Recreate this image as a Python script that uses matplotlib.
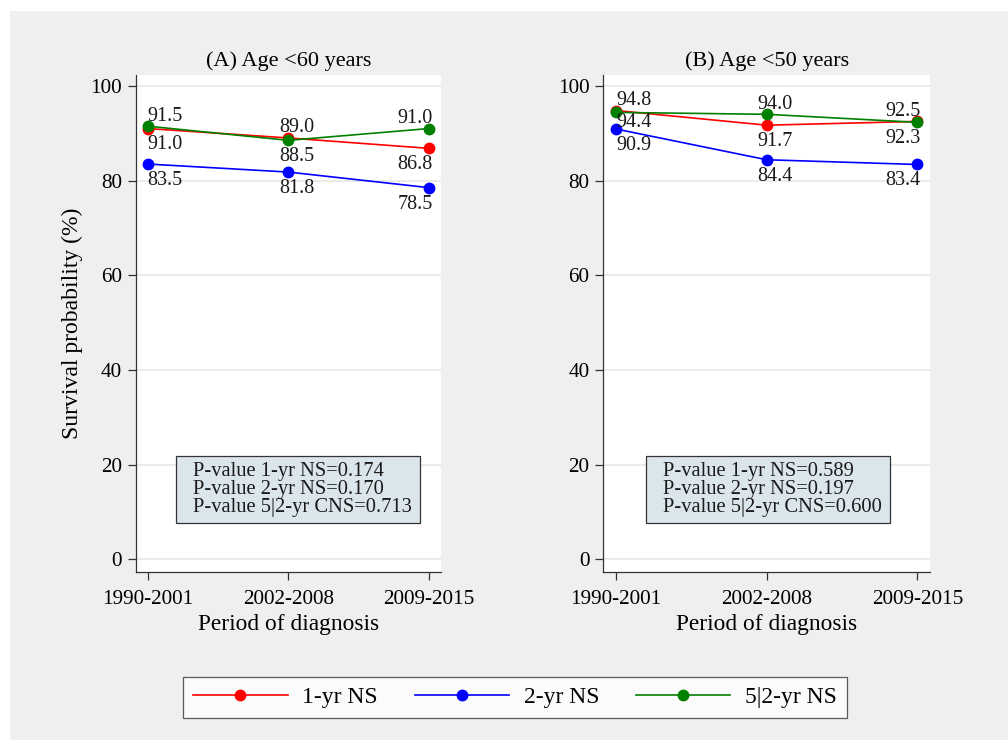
import numpy as np
import matplotlib
matplotlib.use("Agg")
import matplotlib.pyplot as plt
from matplotlib.patches import Rectangle

periods = ["1990-2001", "2002-2008", "2009-2015"]

# panel A: age < 60 years
a_ns1 = [91.0, 89.0, 86.8]
a_ns2 = [83.5, 81.8, 78.5]
a_cns = [91.5, 88.5, 91.0]
a_pvals = [0.174, 0.170, 0.713]

# panel B: age < 50 years
b_ns1 = [94.8, 91.7, 92.5]
b_ns2 = [90.9, 84.4, 83.4]
b_cns = [94.4, 94.0, 92.3]
b_pvals = [0.589, 0.197, 0.600]

series_names = ["1-yr NS", "2-yr NS", "5|2-yr NS"]
pval_names = ["1-yr NS", "2-yr NS", "5|2-yr CNS"]
colors = ["#ff0000", "#0000ff", "#008000"]

# where each value label sits relative to its point
# a=above, b=below, n=just below (tucked in close to the point)
a_label_pos = [["b", "a", "b"], ["b", "b", "b"], ["a", "b", "a"]]
b_label_pos = [["a", "b", "a"], ["b", "b", "b"], ["n", "a", "b"]]
label_dy = {"a": 4, "b": -15, "n": -10.5}

BG = "#efefef"
GRID = "#e8e8e8"
BOXFILL = "#dbe6ec"
AXCOL = "#333333"


def _style_axes(ax, show_ylabel):
    ax.set_facecolor("white")
    for side in ("top", "right"):
        ax.spines[side].set_visible(False)
    for side in ("left", "bottom"):
        ax.spines[side].set_color(AXCOL)
        ax.spines[side].set_linewidth(0.9)
    ax.set_ylim(-2.6, 102.3)
    ax.set_yticks([0, 20, 40, 60, 80, 100])
    ax.yaxis.grid(True, color=GRID, linewidth=1.2)
    ax.set_axisbelow(True)
    ax.tick_params(axis="both", direction="out", length=5.5, width=0.9,
                   color=AXCOL, labelsize=15.3, pad=4.5)
    ax.tick_params(axis="x", pad=7.5)
    ax.set_xlabel("Period of diagnosis", fontsize=16.8, labelpad=4)
    if show_ylabel:
        ax.set_ylabel("Survival probability (%)", fontsize=17, labelpad=5)


def _panel(ax, title, values, label_pos, pvals, box_x, text_x):
    x = np.arange(len(periods))
    for vals, color, poss in zip(values, colors, label_pos):
        ax.plot(x, vals, color=color, linewidth=1.2, marker="o",
                markersize=7.5, zorder=3)
        for i, (v, p) in enumerate(zip(vals, poss)):
            if i == 0:
                ha, dx = "left", 0
            elif i == len(vals) - 1:
                ha, dx = "right", 2.5
            else:
                ha, dx = "center", 6
            ax.annotate(f"{v:.1f}", (x[i], v), xytext=(dx, label_dy[p]),
                        textcoords="offset points", ha=ha, va="baseline",
                        fontsize=14.5, color="#1a1a1a", zorder=4)
    ax.set_xticks(x)
    ax.set_xticklabels(periods)
    ax.set_xlim(-0.084, 2.083)
    ax.set_title(title, fontsize=16, pad=6.5)

    rect = Rectangle((box_x[0], 0.0987), box_x[1] - box_x[0], 0.1348,
                     transform=ax.transAxes, facecolor=BOXFILL,
                     edgecolor=AXCOL, linewidth=0.9, zorder=5)
    ax.add_patch(rect)
    lines = [f"P-value {n}={p:.3f}" for n, p in zip(pval_names, pvals)]
    ax.text(text_x, 0.1655, "\n".join(lines), transform=ax.transAxes,
            ha="left", va="center", fontsize=14.8, linespacing=0.96,
            color="#1a1a1a", zorder=6)


def main():
    plt.rcParams["font.family"] = ["Liberation Serif", "DejaVu Serif"]
    fig = plt.figure(figsize=(10.08, 7.40), dpi=100)
    fig.patch.set_facecolor("white")
    fig.patches.append(Rectangle((10 / 1008, 0), 1, 1 - 11 / 740,
                                 transform=fig.transFigure, facecolor=BG,
                                 edgecolor="none", zorder=-10))

    bottom = (740 - 571.7) / 740
    height = (571.7 - 75) / 740
    ax_a = fig.add_axes([135.7 / 1008, bottom, 305.3 / 1008, height])
    ax_b = fig.add_axes([603.3 / 1008, bottom, 326.7 / 1008, height])

    _style_axes(ax_a, True)
    _style_axes(ax_b, False)
    _panel(ax_a, "(A) Age <60 years", [a_ns1, a_ns2, a_cns], a_label_pos,
           a_pvals, (0.131, 0.931), 0.187)
    _panel(ax_b, "(B) Age <50 years", [b_ns1, b_ns2, b_cns], b_label_pos,
           b_pvals, (0.130, 0.8776), 0.182)

    handles = [plt.Line2D([], [], color=c, linewidth=1.2, marker="o",
                          markersize=7.5) for c in colors]
    leg = fig.legend(handles, series_names, loc="center",
                     bbox_to_anchor=(515 / 1008, 1 - 697.5 / 740), ncol=3,
                     fontsize=17, handlelength=4.0, handletextpad=0.62,
                     columnspacing=1.55, borderpad=0.42, frameon=True,
                     fancybox=False)
    frame = leg.get_frame()
    frame.set_edgecolor(AXCOL)
    frame.set_linewidth(0.9)
    frame.set_facecolor("white")

    fig.savefig("out.png", dpi=100, facecolor=fig.get_facecolor())
    plt.close(fig)


if __name__ == "__main__":
    main()
